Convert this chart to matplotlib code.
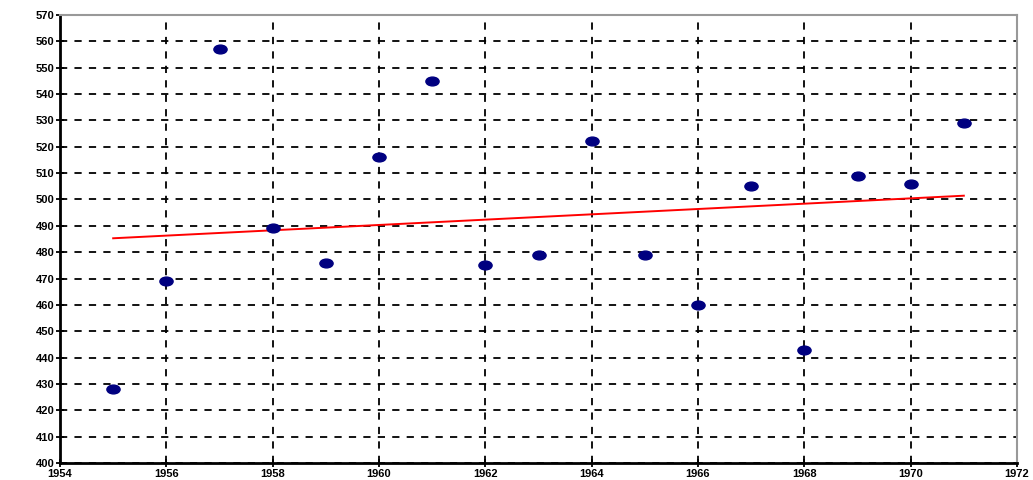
import matplotlib
matplotlib.use("Agg")
import matplotlib.pyplot as plt
import numpy as np
from matplotlib.path import Path

years = [1955, 1956, 1957, 1958, 1959, 1960, 1961, 1962, 1963,
         1964, 1965, 1966, 1967, 1968, 1969, 1970, 1971]
values = [428, 469, 557, 489, 476, 516, 545, 475, 479,
          522, 479, 460, 505, 443, 509, 506, 529]

x_ticks = list(range(1954, 1973, 2))
y_ticks = list(range(400, 571, 10))

# wide oval marker like the Excel export
circ = Path.unit_circle()
oval = Path(circ.vertices * np.array([1.5, 1.0]), circ.codes)

fig = plt.figure(figsize=(10.33, 4.8), dpi=100)
ax = fig.add_axes([60 / 1033, 1 - 463 / 480, (1017 - 60) / 1033, (463 - 15) / 480])

x = np.array(years, dtype=float)
y = np.array(values, dtype=float)
slope, intercept = np.polyfit(x, y, 1)
ax.plot(x, slope * x + intercept, color="#ff0000", linewidth=1.4, zorder=2)

ax.plot(x, y, linestyle="none", marker=oval, markersize=9.5,
        color="#000080", markeredgecolor="#000080", zorder=3)

ax.set_xlim(1954, 1972)
ax.set_ylim(400, 570)
ax.set_xticks(x_ticks)
ax.set_yticks(y_ticks)
ax.grid(True, color="black", linestyle=(0, (4, 4)), linewidth=1.3)
ax.set_axisbelow(True)

for side in ("left", "bottom"):
    ax.spines[side].set_color("black")
    ax.spines[side].set_linewidth(2)
for side in ("top", "right"):
    ax.spines[side].set_color("#999999")
    ax.spines[side].set_linewidth(1.5)

ax.tick_params(direction="inout", length=6, width=1.3, colors="black",
               labelsize=8, pad=1)
for lab in ax.get_xticklabels() + ax.get_yticklabels():
    lab.set_fontweight("bold")
    lab.set_family("Liberation Sans")

fig.savefig("out.png", dpi=100)
